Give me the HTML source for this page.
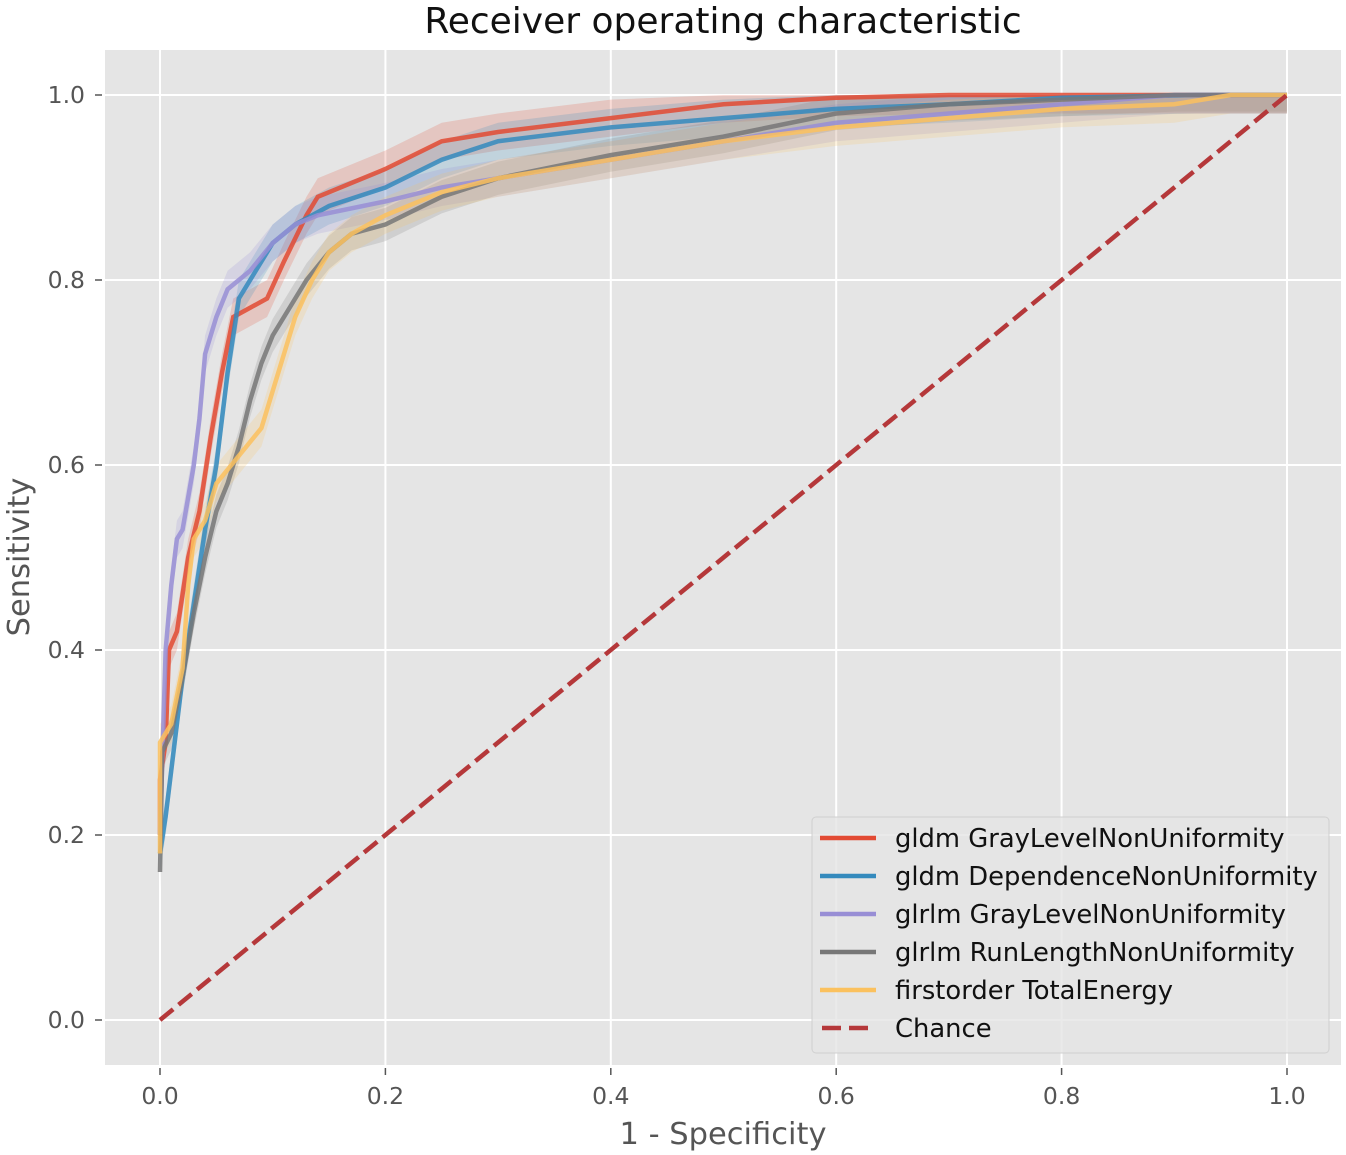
<!DOCTYPE html>
<html><head><meta charset="utf-8"><style>
html,body{margin:0;padding:0;background:#fff;}
svg{display:block;font-family:"DejaVu Sans","Liberation Sans",sans-serif;}
</style></head><body>
<svg id="chart" width="1346" height="1155" viewBox="0 0 1346 1155" xmlns="http://www.w3.org/2000/svg">
<rect x="0" y="0" width="1346" height="1155" fill="#fff"/>
<rect x="105" y="50" width="1236" height="1015" fill="#e5e5e5"/>
<g id="grid"></g>
<g id="bands"></g>
<g id="lines"></g>
<g id="ticks"></g>
<text x="723" y="33" text-anchor="middle" font-size="36" fill="#111">Receiver operating characteristic</text>
<text x="723" y="1144" text-anchor="middle" font-size="30.5" fill="#555">1 - Specificity</text>
<text x="0" y="0" transform="translate(29,557) rotate(-90)" text-anchor="middle" font-size="30.5" fill="#555">Sensitivity</text>
<g id="legend"></g>
</svg>
<script>
const NS='http://www.w3.org/2000/svg';
const xTicks=[0,0.2,0.4,0.6,0.8,1.0];
const yTicks=[0,0.2,0.4,0.6,0.8,1.0];
const tickLabels=['0.0','0.2','0.4','0.6','0.8','1.0'];
const seriesNames=['gldm GrayLevelNonUniformity','gldm DependenceNonUniformity','glrlm GrayLevelNonUniformity','glrlm RunLengthNonUniformity','firstorder TotalEnergy'];
const fprRed=[0,0,0.005,0.008,0.015,0.025,0.035,0.045,0.055,0.065,0.08,0.095,0.11,0.13,0.14,0.2,0.25,0.3,0.4,0.5,0.6,0.7,1];
const tprRed=[0.2,0.26,0.3,0.4,0.42,0.5,0.55,0.63,0.7,0.76,0.77,0.78,0.82,0.87,0.89,0.92,0.95,0.96,0.975,0.99,0.997,1,1];
const fprBlue=[0,0.005,0.01,0.015,0.02,0.03,0.04,0.05,0.055,0.06,0.07,0.085,0.1,0.12,0.15,0.2,0.25,0.3,0.4,0.5,0.6,0.7,0.8,0.92,1];
const tprBlue=[0.18,0.22,0.27,0.32,0.37,0.45,0.53,0.6,0.65,0.7,0.78,0.81,0.84,0.86,0.88,0.9,0.93,0.95,0.965,0.975,0.985,0.99,0.997,1,1];
const fprPurple=[0,0.005,0.01,0.015,0.02,0.03,0.035,0.04,0.05,0.06,0.08,0.1,0.12,0.14,0.2,0.25,0.3,0.4,0.5,0.6,0.7,0.8,0.9,1];
const tprPurple=[0.2,0.4,0.47,0.52,0.53,0.6,0.65,0.72,0.76,0.79,0.81,0.84,0.86,0.87,0.885,0.9,0.91,0.93,0.95,0.97,0.98,0.99,1,1];
const fprGray=[0,0.002,0.01,0.02,0.03,0.04,0.05,0.06,0.07,0.08,0.09,0.1,0.115,0.13,0.15,0.17,0.2,0.25,0.3,0.4,0.5,0.6,0.7,0.8,0.9,1];
const tprGray=[0.16,0.29,0.31,0.37,0.44,0.5,0.55,0.58,0.62,0.67,0.71,0.74,0.77,0.8,0.83,0.85,0.86,0.89,0.91,0.935,0.955,0.98,0.99,0.995,1,1];
const fprYellow=[0,0,0.01,0.02,0.025,0.03,0.04,0.05,0.07,0.09,0.1,0.11,0.12,0.135,0.15,0.17,0.2,0.25,0.3,0.4,0.5,0.6,0.7,0.8,0.9,0.95,1];
const tprYellow=[0.18,0.3,0.32,0.38,0.47,0.52,0.54,0.58,0.61,0.64,0.68,0.72,0.76,0.8,0.83,0.85,0.87,0.895,0.91,0.93,0.95,0.965,0.975,0.985,0.99,1,1];
const bandHalf=[0.02,0.02,0.02,0.018,0.02];
const chanceX=[0,1];
const chanceY=[0,1];

const colors=['#e24a33','#348abd','#988ed5','#777777','#fbc15e'];
const X=v=>160+1127*v;
const Y=v=>1020-925*v;
function mk(tag,attrs,parent){const e=document.createElementNS(NS,tag);for(const k in attrs)e.setAttribute(k,attrs[k]);parent.appendChild(e);return e;}
const grid=document.getElementById('grid'),ticks=document.getElementById('ticks');
xTicks.forEach((v,i)=>{
  const g=mk('line',{x1:X(v),x2:X(v),y1:50,y2:1065,stroke:'#fff','stroke-width':2},grid);
  
  
  mk('line',{x1:X(v),x2:X(v),y1:1068,y2:1075,stroke:'#555','stroke-width':1.5},ticks);
  const t=mk('text',{x:X(v),y:1104,'text-anchor':'middle','font-size':23.5,fill:'#555'},ticks);
  t.textContent=tickLabels[i];
  
  
});
yTicks.forEach((v,i)=>{
  const g=mk('line',{x1:105,x2:1341,y1:Y(v),y2:Y(v),stroke:'#fff','stroke-width':2},grid);
  
  
  mk('line',{x1:95,x2:102,y1:Y(v),y2:Y(v),stroke:'#555','stroke-width':1.5},ticks);
  const t=mk('text',{x:85,y:Y(v)+8,'text-anchor':'end','font-size':23.5,fill:'#555'},ticks);
  t.textContent=tickLabels[i];
  
  
});
const fprs=[fprRed,fprBlue,fprPurple,fprGray,fprYellow];
const tprs=[tprRed,tprBlue,tprPurple,tprGray,tprYellow];
const bands=document.getElementById('bands'),lines=document.getElementById('lines');
const clip=v=>Math.max(0,Math.min(1,v));
fprs.forEach((f,s)=>{
  const t=tprs[s],h=bandHalf[s];
  let up=f.map((x,i)=>X(x)+','+Y(clip(t[i]+h)));
  let lo=f.map((x,i)=>X(x)+','+Y(clip(t[i]-h))).reverse();
  const b=mk('polygon',{points:up.concat(lo).join(' '),fill:colors[s],'fill-opacity':0.2,stroke:'none'},bands);
  
  
});
fprs.forEach((f,s)=>{
  const t=tprs[s];
  const p=mk('polyline',{points:f.map((x,i)=>X(x)+','+Y(t[i])).join(' '),fill:'none',stroke:colors[s],'stroke-width':4.5,'stroke-opacity':0.85,'stroke-linejoin':'miter'},lines);
  
  
});
const ch=mk('line',{x1:X(chanceX[0]),y1:Y(chanceY[0]),x2:X(chanceX[1]),y2:Y(chanceY[1]),stroke:'#b5383a','stroke-width':4.5,'stroke-dasharray':'17,7'},lines);


const lg=document.getElementById('legend');
mk('rect',{x:812,y:817,width:517,height:236,rx:4,fill:'#e5e5e5','fill-opacity':0.8,stroke:'#d0d0d0','stroke-width':1},lg);
const names=seriesNames.concat(['Chance']);
names.forEach((n,i)=>{
  const y=838+38*i;
  const l=mk('line',{x1:820,x2:876,y1:y,y2:y,stroke:i<5?colors[i]:'#b5383a','stroke-width':4.5},lg);
  if(i==5){l.setAttribute('stroke-dasharray','19,8');l.setAttribute('x1',822);}
  const t=mk('text',{x:895,y:y+9,'font-size':25.8,fill:'#111'},lg);
  t.textContent=n;
  
  
});
</script>
</body></html>
